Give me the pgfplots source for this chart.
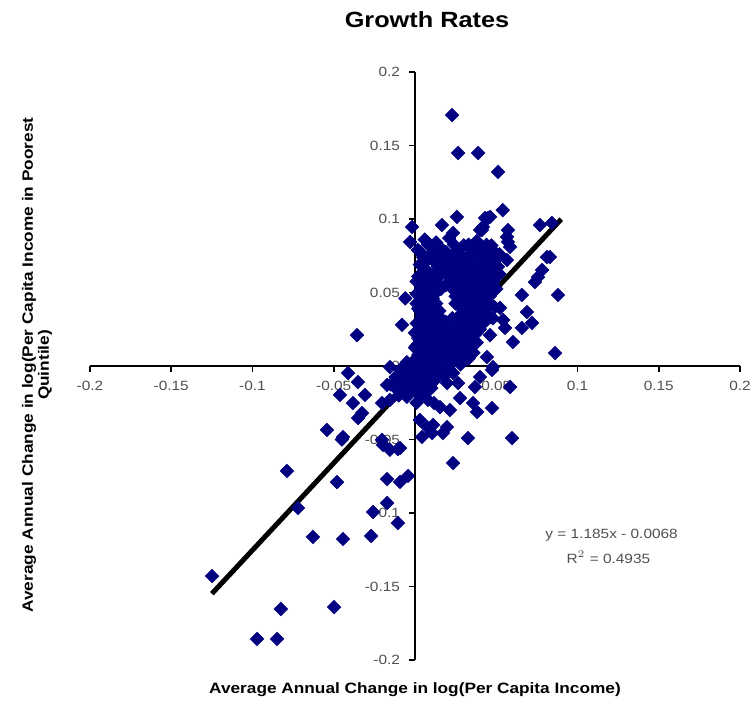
\documentclass[border=0pt]{standalone}
\usepackage{pgfplots}
\pgfplotsset{compat=1.18}
\usepackage{fontspec}
\setmainfont{Liberation Sans}
\newfontfamily\chartfont[FakeStretch=1.15]{Liberation Sans}
\definecolor{navy}{RGB}{0,0,128}
\definecolor{ticktext}{RGB}{80,80,80}
\begin{document}
\begin{tikzpicture}
\path[use as bounding box] (-45pt,-22.5pt) rectangle (333pt,330pt);
\begin{axis}[
  name=ax, at={(0,0)}, anchor=south west,
  scale only axis, width=325pt, height=294pt,
  xmin=-0.2, xmax=0.2, ymin=-0.2, ymax=0.2,
  axis lines=middle,
  axis line style={-, line width=1pt, black},
  every inner x axis line/.append style={-},
  every inner y axis line/.append style={-},
  hide obscured x ticks=false, hide obscured y ticks=false,
  xtick={-0.2,-0.15,-0.1,-0.05,0,0.05,0.1,0.15,0.2},
  xticklabels={-0.2,-0.15,-0.1,-0.05,0,0.05,0.1,0.15,0.2},
  ytick={-0.2,-0.15,-0.1,-0.05,0,0.05,0.1,0.15,0.2},
  yticklabels={-0.2,-0.15,-0.1,-0.05,0,0.05,0.1,0.15,0.2},
  tick align=outside, major tick length=3pt,
  tick style={black, line width=0.8pt},
  x tick label style={font=\chartfont\fontsize{6.7}{8}\selectfont, text=ticktext, yshift=-1pt},
  y tick label style={font=\chartfont\fontsize{6.7}{8}\selectfont, text=ticktext, xshift=-1pt},
  clip=false,
]
\addplot[only marks, mark=square*, mark size=2.35pt, mark options={rotate=45, fill=navy, draw=navy}] coordinates {
(0.0228,0.1707) (0.0265,0.1449) (0.0388,0.1449) (0.0511,0.1320) (0.0540,0.1060)
(-0.0018,0.0946) (-0.0030,0.0844) (0.0018,0.0789) (0.0080,0.0837) (0.0166,0.0959)
(0.0258,0.1014) (0.0234,0.0905) (0.0431,0.1007) (0.0462,0.1014) (0.0400,0.0925)
(0.0572,0.0925) (0.0572,0.0844) (0.0769,0.0959) (0.0843,0.0973) (0.0830,0.0741)
(0.0258,0.0769) (0.0351,0.0789) (0.0338,0.0721) (0.0203,0.0701) (0.0277,0.0687)
(0.0450,0.1007) (0.0418,0.0946) (0.0566,0.0878) (0.0246,0.0769) (0.0289,0.0673)
(0.0449,0.0769) (0.0505,0.0673) (0.0566,0.0721) (0.0585,0.0810) (0.0412,0.0925)
(0.0812,0.0741) (0.0782,0.0653) (0.0738,0.0571) (0.0757,0.0605) (0.0880,0.0483)
(0.0658,0.0483) (0.0689,0.0367) (0.0720,0.0293) (0.0658,0.0259) (0.0603,0.0163)
(0.0523,0.0395) (0.0542,0.0313) (0.0554,0.0259) (0.0462,0.0210) (0.0862,0.0088)
(0.0443,0.0061) (0.0480,-0.0007) (0.0460,0.0720) (0.0443,0.0633) (0.0480,0.0550)
(0.0030,-0.0367) (0.0080,-0.0230) (0.0117,-0.0252) (0.0154,-0.0280) (0.0215,-0.0300)
(0.0074,-0.0415) (0.0111,-0.0401) (0.0197,-0.0415) (0.0172,-0.0456) (0.0043,-0.0483)
(0.0105,-0.0456) (0.0234,-0.0660) (0.0326,-0.0490) (0.0597,-0.0490) (0.0277,-0.0218)
(0.0357,-0.0252) (0.0382,-0.0313) (0.0474,-0.0286) (0.0369,-0.0143) (0.0400,-0.0075)
(0.0474,-0.0027) (0.0585,-0.0143) (0.0265,-0.0116) (0.0197,-0.0116) (0.0031,-0.0048)
(0.0172,-0.0048) (0.0234,-0.0048)
(-0.0412,-0.0048) (-0.0351,-0.0109) (-0.0462,-0.0197) (-0.0308,-0.0197) (-0.0382,-0.0252)
(-0.0326,-0.0320) (-0.0350,-0.0354) (-0.0542,-0.0435) (-0.0443,-0.0483) (-0.0154,-0.0007)
(-0.0172,-0.0129) (-0.0111,-0.0116) (-0.0203,-0.0252) (-0.0154,-0.0231) (-0.0197,-0.0537)
(-0.0154,-0.0570) (-0.0092,-0.0558) (-0.0105,-0.0565) (-0.0049,-0.0040) (-0.0450,-0.0500)
(-0.0203,-0.0503) (-0.0080,0.0280) (-0.0060,0.0460) (-0.0357,0.0210) (-0.0020,0.0020)
(-0.1249,-0.1429) (-0.0788,-0.0714) (-0.0480,-0.0790) (-0.0720,-0.0966) (-0.0628,-0.1163)
(-0.0443,-0.1177) (-0.0270,-0.1156) (-0.0258,-0.0993) (-0.0172,-0.0932) (-0.0105,-0.1068)
(-0.0172,-0.0769) (-0.0092,-0.0789) (-0.0043,-0.0748) (-0.0825,-0.1653) (-0.0498,-0.1640)
(-0.0972,-0.1857) (-0.0849,-0.1857)
(0.006,0.086) (0.013,0.084) (0.021,0.087) (0.038,0.085)
(0.010,0.081) (0.017,0.079) (0.030,0.082) (0.036,0.078) (0.041,0.080) (0.047,0.082)
(0.005,0.074) (0.014,0.076) (0.022,0.073) (0.027,0.077) (0.033,0.075) (0.045,0.074) (0.052,0.076)
(0.003,0.069) (0.012,0.071) (0.019,0.068) (0.025,0.072) (0.031,0.070) (0.038,0.069) (0.044,0.071) (0.048,0.068)
(0.008,0.064) (0.016,0.066) (0.021,0.063) (0.028,0.065) (0.035,0.064) (0.040,0.066) (0.046,0.063)
(0.002,0.061) (0.010,0.059) (0.015,0.061) (0.024,0.060) (0.030,0.058) (0.037,0.061) (0.043,0.059) (0.049,0.060)
(0.004,0.054) (0.009,0.056) (0.019,0.055) (0.026,0.053) (0.033,0.056) (0.039,0.054) (0.045,0.055)
(0.001,0.049) (0.007,0.051) (0.013,0.050) (0.029,0.048) (0.034,0.051) (0.041,0.049) (0.047,0.050)
(0.003,0.044) (0.011,0.046) (0.027,0.045) (0.031,0.043) (0.037,0.046) (0.044,0.044)
(0.002,0.039) (0.006,0.041) (0.028,0.040) (0.032,0.038) (0.036,0.041) (0.042,0.039) (0.049,0.040)
(0.004,0.034) (0.009,0.036) (0.012,0.033) (0.028,0.035) (0.034,0.034) (0.039,0.036) (0.046,0.033)
(0.001,0.029) (0.008,0.031) (0.012,0.028) (0.019,0.030) (0.026,0.029) (0.030,0.031) (0.037,0.029) (0.043,0.030)
(0.003,0.024) (0.010,0.026) (0.015,0.025) (0.021,0.023) (0.024,0.026) (0.033,0.024) (0.040,0.025)
(0.002,0.019) (0.006,0.021) (0.013,0.020) (0.018,0.018) (0.023,0.021) (0.028,0.019) (0.035,0.020)
(0.001,0.014) (0.005,0.016) (0.009,0.015) (0.016,0.013) (0.020,0.016) (0.027,0.015) (0.031,0.014) (0.038,0.016)
(0.003,0.009) (0.007,0.011) (0.012,0.010) (0.017,0.008) (0.022,0.011) (0.029,0.010) (0.036,0.009)
(0.000,0.004) (0.004,0.006) (0.010,0.005) (0.014,0.003) (0.019,0.006) (0.025,0.004) (0.033,0.005)
(-0.003,0.000) (0.002,0.001) (0.006,-0.001) (0.011,0.001) (0.016,0.000) (0.021,-0.002) (0.028,0.001)
(-0.006,-0.005) (-0.001,-0.004) (0.004,-0.006) (0.008,-0.004) (0.013,-0.005) (0.018,-0.007)
(-0.009,-0.010) (-0.004,-0.011) (0.002,-0.009) (0.006,-0.012) (0.012,-0.010)
(-0.012,-0.015) (-0.007,-0.016) (0.000,-0.014) (0.005,-0.017) (0.010,-0.015)
(-0.010,-0.020) (-0.005,-0.021) (0.003,-0.020) (0.001,-0.025)
(0.008,0.0825) (0.024,0.0825) (0.033,0.0825) (0.044,0.0825)
(0.003,0.0775) (0.011,0.0775) (0.019,0.0775) (0.039,0.0775) (0.049,0.0775)
(0.008,0.0725) (0.016,0.0725) (0.028,0.0725) (0.035,0.0725) (0.041,0.0725) (0.050,0.0725)
(0.005,0.0675) (0.014,0.0675) (0.024,0.0675) (0.032,0.0675) (0.043,0.0675) (0.051,0.0675)
(0.006,0.0625) (0.012,0.0625) (0.019,0.0625) (0.027,0.0625) (0.033,0.0625) (0.040,0.0625) (0.052,0.0625)
(0.001,0.0575) (0.007,0.0575) (0.013,0.0575) (0.022,0.0575) (0.029,0.0575) (0.036,0.0575) (0.042,0.0575) (0.048,0.0575)
(0.004,0.0525) (0.010,0.0525) (0.016,0.0525) (0.023,0.0525) (0.031,0.0525) (0.037,0.0525) (0.044,0.0525) (0.050,0.0525)
(0.006,0.0475) (0.009,0.0475) (0.025,0.0475) (0.033,0.0475) (0.039,0.0475) (0.046,0.0475)
(0.001,0.0425) (0.008,0.0425) (0.013,0.0425) (0.025,0.0425) (0.034,0.0425) (0.040,0.0425) (0.046,0.0425)
(0.003,0.0375) (0.011,0.0375) (0.015,0.0375) (0.031,0.0375) (0.037,0.0375) (0.043,0.0375)
(0.006,0.0325) (0.010,0.0325) (0.016,0.0325) (0.023,0.0325) (0.032,0.0325) (0.041,0.0325) (0.048,0.0325)
(0.005,0.0275) (0.013,0.0275) (0.018,0.0275) (0.028,0.0275) (0.035,0.0275) (0.038,0.0275)
(0.000,0.0225) (0.008,0.0225) (0.016,0.0225) (0.026,0.0225) (0.031,0.0225) (0.038,0.0225)
(0.003,0.0175) (0.011,0.0175) (0.021,0.0175) (0.025,0.0175) (0.033,0.0175)
(0.000,0.0125) (0.005,0.0125) (0.014,0.0125) (0.019,0.0125) (0.026,0.0125) (0.033,0.0125)
(0.002,0.0075) (0.008,0.0075) (0.016,0.0075) (0.022,0.0075) (0.030,0.0075)
(-0.005,0.0025) (0.002,0.0025) (0.008,0.0025) (0.013,0.0025) (0.023,0.0025)
(-0.009,-0.0025) (-0.004,-0.0025) (0.001,-0.0025) (0.010,-0.0025) (0.015,-0.0025)
(-0.012,-0.0075) (-0.007,-0.0075) (-0.002,-0.0075) (0.004,-0.0075) (0.009,-0.0075)
(-0.015,-0.0125) (-0.001,-0.0125) (0.009,-0.0125)
(-0.003,-0.0175) (0.007,-0.0175)
};
\addplot[black, line width=2.5pt] coordinates {(-0.125,-0.1549) (0.09,0.0999)};
\node[font=\chartfont\fontsize{6.7}{8}\selectfont, text=ticktext] at (axis cs:0.121,-0.115) {y = 1.185x - 0.0068};
\node[font=\chartfont\fontsize{6.7}{8}\selectfont, text=ticktext] at (axis cs:0.119,-0.130) {R$^2$ = 0.4935};
\end{axis}
\node[font=\chartfont\bfseries\fontsize{11}{13}\selectfont] at (168.5pt,320pt) {Growth Rates};
\node[font=\chartfont\bfseries\fontsize{7.5}{9}\selectfont] at (162.5pt,-15pt) {Average Annual Change in log(Per Capita Income)};
\node[font=\chartfont\bfseries\fontsize{7.5}{7}\selectfont, rotate=90, align=center] at (-26.5pt,147.5pt) {Average Annual Change in log(Per Capita Income in Poorest\\Quintile)};
\end{tikzpicture}
\end{document}
